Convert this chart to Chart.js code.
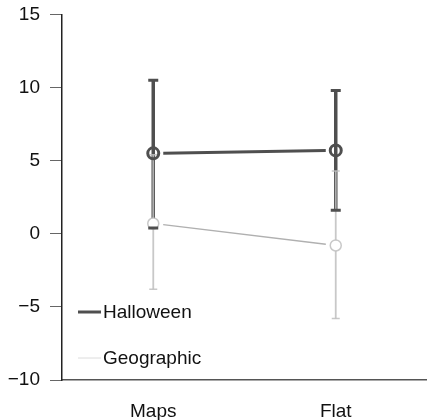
<!DOCTYPE html>
<html>
<head>
<meta charset="utf-8">
<script src="https://cdn.jsdelivr.net/npm/chart.js@4/dist/chart.umd.min.js"></script>
<style>
  html, body { margin: 0; padding: 0; background: #fff; overflow: hidden; }
  #wrap { position: relative; top: -7px; width: 427px; height: 427px; }
</style>
</head>
<body>
<div id="wrap"><canvas id="grafico"></canvas></div>
<script>
// dados do gráfico
const categorias = ['Maps', 'Flat'];
const yTicks = [-10, -5, 0, 5, 10, 15];

const halloweenMedia = [5.5, 5.7];
const halloweenMin = [0.4, 1.6];
const halloweenMax = [10.5, 9.8];

const geoMedia = [0.7, -0.8];
const geoMin = [-3.8, -5.8];
const geoMax = [5.4, 4.3];

// estilo de cada série (fica fora dos dados)
const estilos = [
    { cor: '#4f4f4f', linha: 3, barra: 3.5, capEsp: 3, cap: 10, raio: 5.5, borda: 3, preench: null, corLegenda: '#4f4f4f', linhaLegenda: 3, corLinha: '#4f4f4f' },
    { cor: 'rgba(190,190,190,0.85)', linha: 1.3, barra: 1.8, capEsp: 1.5, cap: 8, raio: 5.5, borda: 1.5, preench: '#fff', corLegenda: '#dcdcdc', linhaLegenda: 1, corLinha: '#b0b0b0' }
];
const erros = [
    { min: halloweenMin, max: halloweenMax },
    { min: geoMin, max: geoMax }
];

const fonte = 'Liberation Sans, Arial, sans-serif';

function pontos(chart, i) {
    const xs = chart.scales.x, ys = chart.scales.y;
    return chart.data.datasets[i].data.map(function (v, j) {
        return {
            x: xs.getPixelForValue(j),
            y: ys.getPixelForValue(v),
            yMin: ys.getPixelForValue(erros[i].min[j]),
            yMax: ys.getPixelForValue(erros[i].max[j])
        };
    });
}

function desenhaLinha(ctx, pts, st) {
    const gap = 10;
    for (let j = 0; j < pts.length - 1; j++) {
        const a = pts[j], b = pts[j + 1];
        const dx = b.x - a.x, dy = b.y - a.y;
        const len = Math.sqrt(dx * dx + dy * dy);
        const ux = dx / len, uy = dy / len;
        ctx.beginPath();
        ctx.strokeStyle = st.corLinha;
        ctx.lineWidth = st.linha;
        ctx.moveTo(a.x + ux * gap, a.y + uy * gap);
        ctx.lineTo(b.x - ux * gap, b.y - uy * gap);
        ctx.stroke();
    }
}

function desenhaBarras(ctx, pts, st) {
    pts.forEach(function (p) {
        ctx.beginPath();
        ctx.strokeStyle = st.cor;
        ctx.lineWidth = st.barra;
        ctx.moveTo(p.x, p.yMin);
        ctx.lineTo(p.x, p.yMax);
        ctx.stroke();
    });
}

function desenhaCaps(ctx, pts, st) {
    pts.forEach(function (p) {
        ctx.beginPath();
        ctx.strokeStyle = st.cor;
        ctx.lineWidth = st.capEsp;
        ctx.moveTo(p.x - st.cap / 2, p.yMin);
        ctx.lineTo(p.x + st.cap / 2, p.yMin);
        ctx.moveTo(p.x - st.cap / 2, p.yMax);
        ctx.lineTo(p.x + st.cap / 2, p.yMax);
        ctx.stroke();
    });
}

function desenhaMarcadores(ctx, pts, st) {
    pts.forEach(function (p) {
        ctx.beginPath();
        ctx.arc(p.x, p.y, st.raio, 0, Math.PI * 2);
        if (st.preench) {
            ctx.fillStyle = st.preench;
            ctx.fill();
        }
        ctx.strokeStyle = st.cor;
        ctx.lineWidth = st.borda;
        ctx.stroke();
    });
}

// plugin que desenha linhas com folga, barras de erro, marcadores e legenda
const pluginErros = {
    id: 'pluginErros',
    afterDatasetsDraw(chart) {
        const ctx = chart.ctx;
        const area = chart.chartArea;
        const h = pontos(chart, 0);
        const g = pontos(chart, 1);

        ctx.save();
        ctx.lineCap = 'butt';

        // Halloween: linha e barras
        desenhaLinha(ctx, h, estilos[0]);
        desenhaBarras(ctx, h, estilos[0]);
        // Geographic completo por cima
        desenhaLinha(ctx, g, estilos[1]);
        desenhaBarras(ctx, g, estilos[1]);
        desenhaCaps(ctx, g, estilos[1]);
        desenhaMarcadores(ctx, g, estilos[1]);
        // caps e marcadores do Halloween por último
        desenhaCaps(ctx, h, estilos[0]);
        desenhaMarcadores(ctx, h, estilos[0]);

        // legenda dentro da área do gráfico
        chart.data.datasets.forEach(function (ds, i) {
            const st = estilos[i];
            const ly = area.bottom - 68 + i * 46;
            const lx = area.left + 16;
            ctx.beginPath();
            ctx.strokeStyle = st.corLegenda;
            ctx.lineWidth = st.linhaLegenda;
            ctx.moveTo(lx, ly);
            ctx.lineTo(lx + 23, ly);
            ctx.stroke();
            ctx.fillStyle = '#111';
            ctx.font = '19px ' + fonte;
            ctx.textAlign = 'left';
            ctx.textBaseline = 'middle';
            ctx.fillText(ds.label, lx + 25, ly + 1);
        });

        ctx.restore();
    }
};

const ctx = document.getElementById('grafico').getContext('2d');
new Chart(ctx, {
    type: 'line',
    data: {
        labels: categorias,
        datasets: [
            { label: 'Halloween', data: halloweenMedia, showLine: false, pointRadius: 0, pointHoverRadius: 0 },
            { label: 'Geographic', data: geoMedia, showLine: false, pointRadius: 0, pointHoverRadius: 0 }
        ]
    },
    options: {
        responsive: true,
        maintainAspectRatio: false,
        animation: false,
        layout: { padding: { top: 0, right: 0, bottom: 0, left: 0 } },
        plugins: {
            legend: { display: false },
            tooltip: { enabled: false }
        },
        scales: {
            x: {
                offset: true,
                grid: { display: false, drawTicks: false },
                border: { color: '#555', width: 1.5 },
                ticks: { color: '#111', padding: 20, font: { family: fonte, size: 19 } },
                afterFit: function (scale) { scale.height = 40; }
            },
            y: {
                min: -10,
                max: 15,
                grid: { drawOnChartArea: false, drawTicks: true, tickLength: 12, color: '#666' },
                border: { color: '#222', width: 1.5 },
                afterBuildTicks: function (scale) {
                    scale.ticks = yTicks.map(function (v) { return { value: v }; });
                },
                ticks: {
                    color: '#111',
                    padding: 10,
                    font: { family: fonte, size: 19 },
                    callback: function (v) { return String(v).replace('-', '\u2212'); }
                },
                afterFit: function (scale) { scale.width = 62; }
            }
        }
    },
    plugins: [pluginErros]
});
</script>
</body>
</html>
